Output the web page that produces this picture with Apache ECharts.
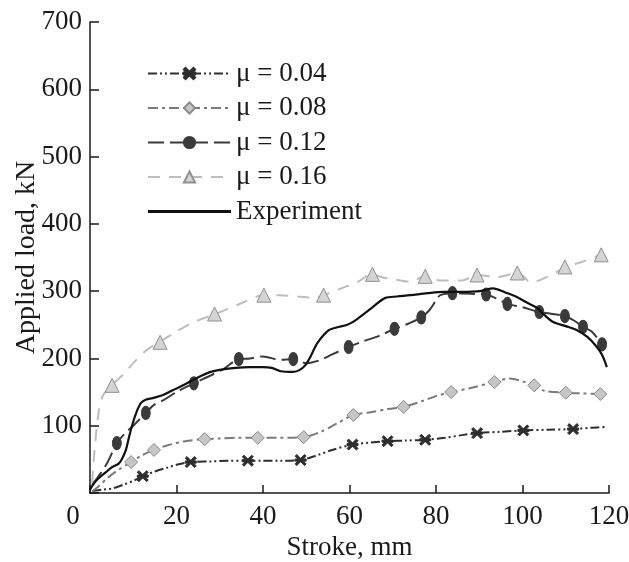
<!DOCTYPE html>
<html>
<head>
<meta charset="utf-8">
<script src="https://cdn.jsdelivr.net/npm/echarts@6/dist/echarts.min.js"></script>
<style>
  html, body { margin: 0; padding: 0; background: #fff; }
  #chart { width: 629px; height: 562px; }
</style>
</head>
<body>
<div id="chart"></div>
<script>
// stroke (mm), load (kN)
const mu04Curve = [[0.5,3],[3,5],[5.3,7],[8,13],[10,18],[12.2,25],[15,32],[18,38],[20,42],[23.3,46],[28,47],[32,48],[36.5,48],[40,48],[44,48],[48.7,49],[52,55],[56,64],[60.7,72],[65,75],[68.8,77],[73,78],[77.5,79],[82,82],[86,86],[89.5,89],[95,91],[100.2,93],[106,94],[111.7,95],[116,97],[119,98]];
const mu04Marks = [[12.2,25],[23.3,46],[36.5,48],[48.7,49],[60.7,72],[68.8,77],[77.5,79],[89.5,89],[100.2,93],[111.7,95]];

const mu08Curve = [[0.5,2],[2,10],[4,22],[6,32],[9.5,46],[12,56],[14.8,64],[18,71],[22,77],[26.5,80],[30,81],[34,82],[38.8,82],[43,82],[49.4,83],[53,90],[57,103],[60.9,116],[65,120],[69,125],[72.5,128],[77,137],[80,144],[83.5,150],[88,156],[93.5,165],[97,170],[100,166],[102.7,160],[105,152],[110,149],[114,148],[118,147]];
const mu08Marks = [[9.5,46],[14.8,64],[26.5,80],[38.8,82],[49.4,83],[60.9,116],[72.5,128],[83.5,150],[93.5,165],[102.7,160],[110,149],[118,147]];

const mu12Curve = [[0.5,12],[2,25],[4,45],[6.2,74],[8,88],[10,100],[12.9,119],[14.8,131],[17,138],[20,150],[24,163],[28,175],[31,185],[34.4,199],[37,200],[40,203],[44,198],[47,199],[50,193],[53,197],[56,206],[59.8,217],[63,225],[67,234],[70.4,244],[73,250],[76.6,261],[78.5,272],[80,286],[81,294],[83.8,297],[88,296],[91.6,295],[94,289],[96.5,281],[100,276],[103.9,269],[107,266],[109.8,263],[112,256],[114,247],[116,240],[118.4,221]];
const mu12Marks = [[6.2,74],[12.9,119],[24,163],[34.4,199],[47,199],[59.8,217],[70.4,244],[76.6,261],[83.8,297],[91.6,295],[96.5,281],[103.9,269],[109.8,263],[114,247],[118.4,221]];

const mu16Curve = [[0.5,15],[1,60],[2,120],[3,145],[5,160],[8,178],[10,193],[13,212],[16,224],[20,240],[24,254],[29,266],[35,282],[40,294],[44,294],[48,292],[52,290],[54,294],[58,304],[62,314],[65,325],[68,320],[70,318],[74,314],[77.5,322],[81,316],[86,316],[89.5,324],[94,321],[99,327],[102,313],[106,322],[110,336],[114,344],[118,354]];
const mu16Marks = [[5.1,160],[16.2,224],[28.8,266],[40.2,294],[54,294],[65.3,325],[77.5,322],[89.5,324],[98.8,327],[109.8,336],[118.2,354]];

const expCurve = [[0,5],[1,15],[2,22],[3.7,31],[5,38],[6.7,44],[7.5,52],[8.3,64],[9.1,85],[9.9,104],[10.8,121],[11.8,134],[13,139],[14.5,141],[17,146],[19.2,153],[21.5,160],[23.8,168],[26,175],[27.9,180],[30,183],[33.7,186],[37,187],[39.9,187],[42,186],[44.1,181],[47,180],[48.5,183],[49.8,190],[51,203],[52.6,223],[55.2,242],[57,246],[59.5,250],[61,255],[62.5,262],[65.3,276],[68.3,290],[71,292],[74.1,294],[78,297],[81.7,299],[86,299],[90.2,300],[93.2,304],[96,298],[98.8,291],[101,283],[103.4,275],[105,265],[107.1,254],[110,248],[112.6,242],[115,232],[117.2,217],[118.5,204],[119.5,187]];

const seriesNames = ['μ = 0.04', 'μ = 0.08', 'μ = 0.12', 'μ = 0.16', 'Experiment'];
const xTicks = [0, 20, 40, 60, 80, 100, 120];
const yTicks = [0, 100, 200, 300, 400, 500, 600, 700];

const FONT = 'Liberation Serif';
const FS = 27;
const INK = '#1a1a1a';
const starPath = 'path://M0,4L10,4L10,6L0,6Z M0,1.5L1.5,0L10,8.5L8.5,10Z M8.5,0L10,1.5L1.5,10L0,8.5Z';

const styles = [
  { line: '#2e2e2e', dash: [9, 3, 2, 3, 2, 3], symbol: starPath, size: 11, fill: '#2e2e2e', border: '#2e2e2e' },
  { line: '#7a7a7a', dash: [10, 4, 3, 4], symbol: 'diamond', size: 13, fill: '#c6c6c6', border: '#8a8a8a' },
  { line: '#3a3a3a', dash: [16, 6], symbol: 'circle', size: [9, 13], fill: '#3a3a3a', border: '#3a3a3a' },
  { line: '#bdbdbd', dash: [12, 9], symbol: 'triangle', size: 14, fill: '#d4d4d4', border: '#8f8f8f' }
];
const curves = [mu04Curve, mu08Curve, mu12Curve, mu16Curve];
const marks = [mu04Marks, mu08Marks, mu12Marks, mu16Marks];

const series = [];
curves.forEach((c, i) => {
  const s = styles[i];
  series.push({
    name: seriesNames[i], type: 'line', data: c, showSymbol: false,
    symbol: s.symbol, smooth: 0.3,
    lineStyle: { color: s.line, width: 2, type: s.dash },
    itemStyle: { color: s.fill, borderColor: s.border, borderWidth: 1 },
    emphasis: { disabled: true }
  });
});
marks.forEach((m, i) => {
  const s = styles[i];
  series.push({
    name: seriesNames[i], type: 'scatter', data: m, z: 3,
    symbol: s.symbol, symbolSize: s.size,
    itemStyle: { color: s.fill, borderColor: s.border, borderWidth: 1, opacity: 1 },
    emphasis: { disabled: true }
  });
});
series.push({
  name: seriesNames[4], type: 'line', data: expCurve, showSymbol: false, smooth: 0.3, z: 4,
  lineStyle: { color: '#111', width: 2.2 }, itemStyle: { color: '#111' },
  emphasis: { disabled: true }
});

const chart = echarts.init(document.getElementById('chart'));
chart.setOption({
  animation: false,
  backgroundColor: '#fff',
  textStyle: { fontFamily: FONT },
  grid: { left: 90, right: 20, top: 22, bottom: 69, outerBoundsMode: 'none' },
  legend: {
    orient: 'vertical', left: 142, top: 55,
    itemWidth: 83, itemHeight: 14, itemGap: 7.5,
    textStyle: { fontFamily: FONT, fontSize: FS, color: INK, lineHeight: 26 },
    data: seriesNames.slice(0, 4).map(n => ({ name: n })).concat([
      { name: seriesNames[4], icon: 'path://M0,0H80V3H0Z' }
    ])
  },
  xAxis: {
    type: 'value', min: xTicks[0], max: xTicks[xTicks.length - 1], interval: 20,
    name: 'Stroke, mm', nameLocation: 'middle', nameGap: 41, nameMoveOverlap: false,
    nameTextStyle: { fontFamily: FONT, fontSize: FS, color: INK },
    axisLine: { lineStyle: { color: INK, width: 1.5 } },
    axisTick: { inside: true, length: 8, lineStyle: { color: INK, width: 1.5 } },
    axisLabel: {
      fontFamily: FONT, fontSize: FS, color: INK, margin: 10,
      formatter: v => v === 0 ? '{o|0}' : String(v),
      rich: { o: { fontFamily: FONT, fontSize: FS, color: INK, padding: [0, 34, 0, 0] } }
    },
    splitLine: { show: false }
  },
  yAxis: {
    type: 'value', min: yTicks[0], max: yTicks[yTicks.length - 1], interval: 100,
    name: 'Applied load, kN', nameLocation: 'middle', nameGap: 49, nameMoveOverlap: false,
    nameTextStyle: { fontFamily: FONT, fontSize: 28, color: INK },
    axisLine: { show: true, lineStyle: { color: INK, width: 1.5 } },
    axisTick: { show: true, inside: true, length: 9, lineStyle: { color: INK, width: 1.5 } },
    axisLabel: {
      fontFamily: FONT, fontSize: FS, color: INK, margin: 8,
      formatter: v => v === 0 ? '' : String(v)
    },
    splitLine: { show: false }
  },
  series: series
});
</script>
</body>
</html>
